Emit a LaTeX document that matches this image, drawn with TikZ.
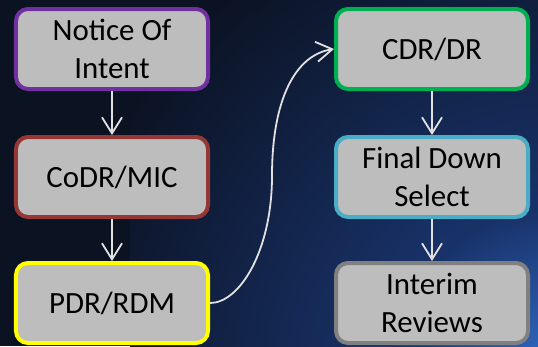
\documentclass[tikz,border=0pt]{standalone}
\usepackage{fontspec}
\setmainfont{Carlito}
\usetikzlibrary{arrows.meta}
\definecolor{bgbase}{RGB}{11,18,33}
\definecolor{bgmid}{RGB}{24,50,105}
\definecolor{bgglow}{RGB}{52,112,205}
\definecolor{boxfill}{RGB}{189,189,189}
\definecolor{cpurple}{RGB}{112,48,160}
\definecolor{cred}{RGB}{149,55,53}
\definecolor{cyellow}{RGB}{255,255,0}
\definecolor{cgreen}{RGB}{0,176,80}
\definecolor{cblue}{RGB}{75,172,198}
\definecolor{cgray}{RGB}{128,128,128}
\definecolor{conncol}{RGB}{225,225,225}
\pgfdeclareradialshading{glowshade}{\pgfpoint{0bp}{0bp}}{color(0bp)=(bgglow); color(10bp)=(bgmid); color(30bp)=(bgbase); color(50bp)=(bgbase)}
\tikzset{
  stagebox/.style={draw, line width=4bp, fill=boxfill, rounded corners=12bp,
    minimum width=192bp, minimum height=80bp, inner sep=0pt, align=center,
    font=\fontsize{31}{38}\selectfont, text=black},
  conn/.style={draw=conncol, line width=1.8bp,
    -{Straight Barb[length=16bp, width=20bp, line width=1.8bp]}}
}
\begin{document}
\begin{tikzpicture}[x=1bp,y=-1bp]
\useasboundingbox (0,0) rectangle (538,346);
\begin{scope}
\clip (0,0) rectangle (538,346);
\fill[bgbase] (0,0) rectangle (538,346);
\shade[shading=glowshade] (130,-50) rectangle (990,810);
\end{scope}

\node[stagebox, draw=cpurple] (noi) at (112,49) {Notice Of\\Intent};
\node[stagebox, draw=cred] (codr) at (112,177) {CoDR/MIC};
\node[stagebox, draw=cyellow] (pdr) at (112,303) {PDR/RDM};
\node[stagebox, draw=cgreen] (cdr) at (432,49) {CDR/DR};
\node[stagebox, draw=cblue] (fds) at (432,177) {Final Down\\Select};
\node[stagebox, draw=cgray] (ir) at (432,303) {Interim\\Reviews};

\coordinate (mid) at (272,176);
\draw[conn] (noi) -- (codr);
\draw[conn] (codr) -- (pdr);
\draw[conn] (cdr) -- (fds);
\draw[conn] (fds) -- (ir);
\draw[conn] (pdr.east) .. controls (240,303) and (272,250) .. (mid)
  .. controls (272,100) and (295,55) .. (cdr.west);
\end{tikzpicture}
\end{document}
